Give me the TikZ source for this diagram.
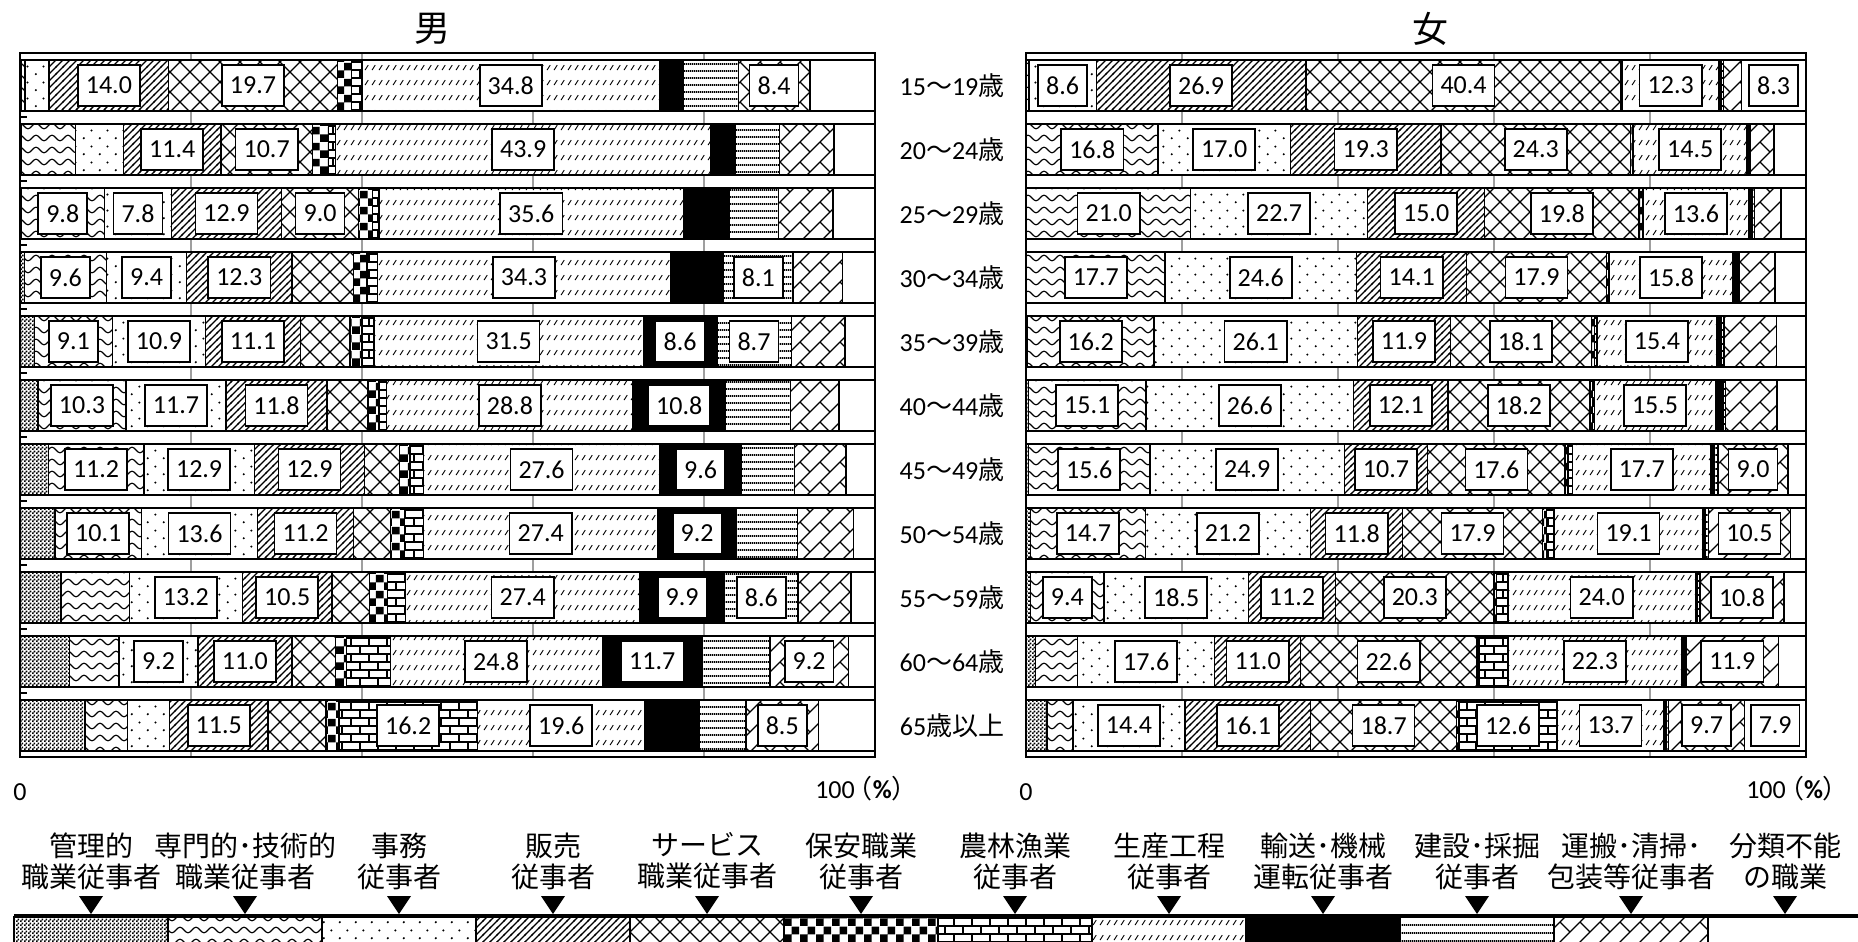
\documentclass[tikz,border=0pt]{standalone}
\usepackage{fontspec}
\setmainfont{Carlito}
\newfontfamily\jp{Noto Sans CJK JP}
\usetikzlibrary{patterns}

% fill patterns of the twelve occupations
\pgfdeclarepatternformonly{mgmtdots}{\pgfqpoint{0pt}{0pt}}{\pgfqpoint{2pt}{2pt}}{\pgfqpoint{2pt}{2pt}}{%
  \pgfpathrectangle{\pgfqpoint{0pt}{0pt}}{\pgfqpoint{1pt}{1pt}}%
  \pgfpathrectangle{\pgfqpoint{1pt}{1pt}}{\pgfqpoint{1pt}{1pt}}%
  \pgfusepath{fill}}
\pgfdeclarepatternformonly{profwave}{\pgfqpoint{-0.5pt}{-2pt}}{\pgfqpoint{8.5pt}{2pt}}{\pgfqpoint{8pt}{6pt}}{%
  \pgfsetlinewidth{0.55pt}%
  \pgfpathmoveto{\pgfqpoint{0pt}{0pt}}%
  \pgfpathsine{\pgfqpoint{2pt}{1.4pt}}%
  \pgfpathcosine{\pgfqpoint{2pt}{-1.4pt}}%
  \pgfpathsine{\pgfqpoint{2pt}{-1.4pt}}%
  \pgfpathcosine{\pgfqpoint{2pt}{1.4pt}}%
  \pgfusepath{stroke}}
\pgfdeclarepatternformonly{clerdots}{\pgfqpoint{0pt}{0pt}}{\pgfqpoint{8pt}{8pt}}{\pgfqpoint{8pt}{8pt}}{%
  \pgfpathcircle{\pgfqpoint{2pt}{2pt}}{0.6pt}%
  \pgfpathcircle{\pgfqpoint{6pt}{6pt}}{0.6pt}%
  \pgfusepath{fill}}
\pgfdeclarepatternformonly{salesdiag}{\pgfqpoint{-0.5pt}{-0.5pt}}{\pgfqpoint{4pt}{4pt}}{\pgfqpoint{3.5pt}{3.5pt}}{%
  \pgfsetlinewidth{0.6pt}%
  \pgfpathmoveto{\pgfqpoint{-0.5pt}{-0.5pt}}\pgfpathlineto{\pgfqpoint{4pt}{4pt}}%
  \pgfusepath{stroke}}
\pgfdeclarepatternformonly{servcross}{\pgfqpoint{-0.5pt}{-0.5pt}}{\pgfqpoint{10.5pt}{10.5pt}}{\pgfqpoint{10pt}{10pt}}{%
  \pgfsetlinewidth{0.6pt}%
  \pgfpathmoveto{\pgfqpoint{0pt}{0pt}}\pgfpathlineto{\pgfqpoint{10pt}{10pt}}%
  \pgfpathmoveto{\pgfqpoint{0pt}{10pt}}\pgfpathlineto{\pgfqpoint{10pt}{0pt}}%
  \pgfusepath{stroke}}
\pgfdeclarepatternformonly{secchecker}{\pgfqpoint{0pt}{0pt}}{\pgfqpoint{8pt}{8pt}}{\pgfqpoint{8pt}{8pt}}{%
  \pgfpathrectangle{\pgfqpoint{0pt}{0pt}}{\pgfqpoint{4pt}{4pt}}%
  \pgfpathrectangle{\pgfqpoint{4pt}{4pt}}{\pgfqpoint{4pt}{4pt}}%
  \pgfusepath{fill}}
\pgfdeclarepatternformonly{agribrick}{\pgfqpoint{-0.5pt}{-0.5pt}}{\pgfqpoint{9.5pt}{8.5pt}}{\pgfqpoint{9pt}{8pt}}{%
  \pgfsetlinewidth{0.8pt}%
  \pgfpathmoveto{\pgfqpoint{0pt}{0pt}}\pgfpathlineto{\pgfqpoint{9pt}{0pt}}%
  \pgfpathmoveto{\pgfqpoint{0pt}{4pt}}\pgfpathlineto{\pgfqpoint{9pt}{4pt}}%
  \pgfpathmoveto{\pgfqpoint{0pt}{0pt}}\pgfpathlineto{\pgfqpoint{0pt}{4pt}}%
  \pgfpathmoveto{\pgfqpoint{4.5pt}{4pt}}\pgfpathlineto{\pgfqpoint{4.5pt}{8pt}}%
  \pgfusepath{stroke}}
\pgfdeclarepatternformonly{proddash}{\pgfqpoint{0pt}{0pt}}{\pgfqpoint{3.5pt}{7.5pt}}{\pgfqpoint{3.5pt}{7.5pt}}{%
  \pgfsetlinewidth{0.5pt}%
  \pgfpathmoveto{\pgfqpoint{0.6pt}{1pt}}\pgfpathlineto{\pgfqpoint{2.4pt}{3.6pt}}%
  \pgfusepath{stroke}}
\pgfdeclarepatternformonly{conslines}{\pgfqpoint{0pt}{0pt}}{\pgfqpoint{1pt}{3.7pt}}{\pgfqpoint{1pt}{3.7pt}}{%
  \pgfpathrectangle{\pgfqpoint{0pt}{0pt}}{\pgfqpoint{1pt}{1pt}}%
  \pgfusepath{fill}}
\pgfdeclarepatternformonly{carrybrick}{\pgfqpoint{-0.5pt}{-0.5pt}}{\pgfqpoint{10.5pt}{10.5pt}}{\pgfqpoint{10pt}{10pt}}{%
  \pgfsetlinewidth{0.6pt}%
  \pgfpathmoveto{\pgfqpoint{0pt}{0pt}}\pgfpathlineto{\pgfqpoint{10pt}{10pt}}%
  \pgfpathmoveto{\pgfqpoint{5pt}{5pt}}\pgfpathlineto{\pgfqpoint{0pt}{10pt}}%
  \pgfusepath{stroke}}

\newcommand\agelab[2]{#1{\jp 〜}#2{\jp 歳}}

% one stacked bar: name prefix, left x, px per percent, bar top, value/label list
\newcommand\occbar[5]{%
  \xdef\occacc{0}%
  \foreach \v/\lab [count=\k] in {#5} {%
    \pgfmathsetmacro\xa{#2+\occacc*#3}%
    \pgfmathsetmacro\xb{#2+(\occacc+\v)*#3}%
    \draw[occ\k] (\xa,#4) rectangle (\xb,#4+51);
    \ifnum\lab=1
      \node[val] (#1-\k) at ({(\xa+\xb)/2},#4+25.5) {\v};
    \fi
    \pgfmathsetmacro\occnext{\occacc+\v}%
    \xdef\occacc{\occnext}%
  }%
}

\begin{document}
\begin{tikzpicture}[
    x=0.5pt, y=-0.5pt,
    seg/.style={draw=black, line width=0.7pt, preaction={fill=white}},
    occ1/.style={seg, pattern=mgmtdots},
    occ2/.style={seg, pattern=profwave},
    occ3/.style={seg, pattern=clerdots},
    occ4/.style={seg, pattern=salesdiag},
    occ5/.style={seg, pattern=servcross},
    occ6/.style={seg, pattern=secchecker},
    occ7/.style={seg, pattern=agribrick},
    occ8/.style={seg, pattern=proddash},
    occ9/.style={seg, fill=black},
    occ10/.style={seg, pattern=conslines},
    occ11/.style={seg, pattern=carrybrick},
    occ12/.style={seg, fill=white},
    val/.style={
      draw,
      fill=white,
      line width=0.8pt,
      inner xsep=4pt,
      inner ysep=0pt,
      minimum height=20.5pt,
      font=\fontsize{13}{13}\selectfont
    },
    agelabel/.style={font=\fontsize{13}{13}\selectfont},
    axislabel/.style={font=\fontsize{13}{13}\selectfont},
    ttl/.style={font=\jp\fontsize{18}{18}\selectfont},
    legtext/.style={align=center, font=\jp\fontsize{14}{15.5}\selectfont},
    gridln/.style={draw=gray!75, line width=0.6pt},
    panelframe/.style={draw=black, line width=0.9pt}
  ]
  \path[use as bounding box] (0,0) rectangle (1858,942);
  \clip (0,0) rectangle (1858,942);

  % titles
  \node[ttl] (tm) at (432,29) {男};
  \node[ttl] (tf) at (1430,29) {女};

  % grid lines every 20 percent
  \foreach \g in {1,...,4} {
    \draw[gridln] ({20+\g*171},53) -- ({20+\g*171},757);
    \draw[gridln] ({1026+\g*156},53) -- ({1026+\g*156},757);
  }

  % men
  \occbar{m1}{20}{8.55}{60}{0.1/0,0.5/0,2.8/0,14.0/1,19.7/1,1.7/0,1.2/0,34.8/1,2.8/0,6.4/0,8.4/1,7.6/0}
  \occbar{m2}{20}{8.55}{124}{0.1/0,6.4/0,5.6/0,11.4/1,10.7/1,1.9/0,0.8/0,43.9/1,2.9/0,5.1/0,6.4/0,4.8/0}
  \occbar{m3}{20}{8.55}{188}{0.1/0,9.8/1,7.8/1,12.9/1,9.0/1,1.6/0,0.8/0,35.6/1,5.3/0,5.8/0,6.4/0,4.9/0}
  \occbar{m4}{20}{8.55}{252}{0.5/0,9.6/1,9.4/1,12.3/1,7.2/0,1.6/0,1.2/0,34.3/1,6.2/0,8.1/1,5.8/0,3.8/0}
  \occbar{m5}{20}{8.55}{316}{1.7/0,9.1/1,10.9/1,11.1/1,5.8/0,1.4/0,1.4/0,31.5/1,8.6/1,8.7/1,6.3/0,3.5/0}
  \occbar{m6}{20}{8.55}{380}{2.1/0,10.3/1,11.7/1,11.8/1,4.8/0,1.3/0,0.9/0,28.8/1,10.8/1,7.6/0,5.7/0,4.2/0}
  \occbar{m7}{20}{8.55}{444}{3.3/0,11.2/1,12.9/1,12.9/1,4.1/0,1.2/0,1.6/0,27.6/1,9.6/1,6.2/0,6.0/0,3.4/0}
  \occbar{m8}{20}{8.55}{508}{4.1/0,10.1/1,13.6/1,11.2/1,4.3/0,1.7/0,2.2/0,27.4/1,9.2/1,7.1/0,6.6/0,2.5/0}
  \occbar{m9}{20}{8.55}{572}{4.8/0,8.0/0,13.2/1,10.5/1,4.4/0,2.1/0,2.1/0,27.4/1,9.9/1,8.6/1,6.2/0,2.8/0}
  \occbar{m10}{20}{8.55}{636}{5.8/0,5.8/0,9.2/1,11.0/1,5.1/0,1.3/0,5.1/0,24.8/1,11.7/1,7.9/0,9.2/1,3.1/0}
  \occbar{m11}{20}{8.55}{700}{7.6/0,5.0/0,4.9/0,11.5/1,6.8/0,1.5/0,16.2/1,19.6/1,6.4/0,5.4/0,8.5/1,6.6/0}

  % women
  \occbar{f1}{1026}{7.8}{60}{0.1/0,0.3/0,8.6/1,26.9/1,40.4/1,0.1/0,0.1/0,12.3/1,0.4/0,0.2/0,2.3/0,8.3/1}
  \occbar{f2}{1026}{7.8}{124}{0.1/0,16.8/1,17.0/1,19.3/1,24.3/1,0.3/0,0.1/0,14.5/1,0.3/0,0.2/0,3.0/0,4.1/0}
  \occbar{f3}{1026}{7.8}{188}{0.1/0,21.0/1,22.7/1,15.0/1,19.8/1,0.4/0,0.1/0,13.6/1,0.4/0,0.3/0,3.4/0,3.2/0}
  \occbar{f4}{1026}{7.8}{252}{0.1/0,17.7/1,24.6/1,14.1/1,17.9/1,0.3/0,0.1/0,15.8/1,0.6/0,0.2/0,4.6/0,4.0/0}
  \occbar{f5}{1026}{7.8}{316}{0.2/0,16.2/1,26.1/1,11.9/1,18.1/1,0.4/0,0.3/0,15.4/1,0.6/0,0.3/0,6.7/0,3.8/0}
  \occbar{f6}{1026}{7.8}{380}{0.3/0,15.1/1,26.6/1,12.1/1,18.2/1,0.3/0,0.3/0,15.5/1,1.0/0,0.3/0,6.6/0,3.7/0}
  \occbar{f7}{1026}{7.8}{444}{0.3/0,15.6/1,24.9/1,10.7/1,17.6/1,0.4/0,0.6/0,17.7/1,0.5/0,0.4/0,9.0/1,2.3/0}
  \occbar{f8}{1026}{7.8}{508}{0.6/0,14.7/1,21.2/1,11.8/1,17.9/1,0.5/0,1.0/0,19.1/1,0.3/0,0.4/0,10.5/1,2.0/0}
  \occbar{f9}{1026}{7.8}{572}{0.6/0,9.4/1,18.5/1,11.2/1,20.3/1,0.3/0,1.5/0,24.0/1,0.3/0,0.3/0,10.8/1,2.8/0}
  \occbar{f10}{1026}{7.8}{636}{1.2/0,5.4/0,17.6/1,11.0/1,22.6/1,0.3/0,3.7/0,22.3/1,0.3/0,0.2/0,11.9/1,3.5/0}
  \occbar{f11}{1026}{7.8}{700}{2.7/0,3.3/0,14.4/1,16.1/1,18.7/1,0.3/0,12.6/1,13.7/1,0.3/0,0.3/0,9.7/1,7.9/1}

  % frames and ticks
  \draw[panelframe] (20,53) rectangle (875,757);
  \draw[panelframe] (1026,53) rectangle (1806,757);
  \foreach \i in {1,...,10}
    \draw[line width=0.6pt] (20,{53+64*\i}) -- (27,{53+64*\i});

  % age groups
  \node[agelabel] (a1) at (952,85.5) {\agelab{15}{19}};
  \node[agelabel] (a2) at (952,149.5) {\agelab{20}{24}};
  \node[agelabel] (a3) at (952,213.5) {\agelab{25}{29}};
  \node[agelabel] (a4) at (952,277.5) {\agelab{30}{34}};
  \node[agelabel] (a5) at (952,341.5) {\agelab{35}{39}};
  \node[agelabel] (a6) at (952,405.5) {\agelab{40}{44}};
  \node[agelabel] (a7) at (952,469.5) {\agelab{45}{49}};
  \node[agelabel] (a8) at (952,533.5) {\agelab{50}{54}};
  \node[agelabel] (a9) at (952,597.5) {\agelab{55}{59}};
  \node[agelabel] (a10) at (952,661.5) {\agelab{60}{64}};
  \node[agelabel] (a11) at (952,725.5) {65{\jp 歳以上}};

  % axis ends
  \node[axislabel] (m0) at (20,792) {0};
  \node[axislabel, anchor=east] (m100) at (925,789) {100\kern-0.3em{\jp（}\textbf{\%}{\jp）}};
  \node[axislabel] (f0) at (1026,792) {0};
  \node[axislabel, anchor=east] (f100) at (1856,789) {100\kern-0.3em{\jp（}\textbf{\%}{\jp）}};

  % legend
  \draw[line width=1pt] (14,915) -- (1858,915);
  \foreach \i in {1,...,12} {
    \draw[occ\i] ({14+154*(\i-1)},917) rectangle ({14+154*\i},950);
    \fill ({91+154*(\i-1)-12},896) -- ({91+154*(\i-1)+12},896) -- ({91+154*(\i-1)},914) -- cycle;
  }
  \node[legtext] (l1) at (91,861) {管理的\\職業従事者};
  \node[legtext] (l2) at (245,861) {専門的･技術的\\職業従事者};
  \node[legtext] (l3) at (399,861) {事務\\従事者};
  \node[legtext] (l4) at (553,861) {販売\\従事者};
  \node[legtext] (l5) at (707,861) {サービス\\職業従事者};
  \node[legtext] (l6) at (861,861) {保安職業\\従事者};
  \node[legtext] (l7) at (1015,861) {農林漁業\\従事者};
  \node[legtext] (l8) at (1169,861) {生産工程\\従事者};
  \node[legtext] (l9) at (1323,861) {輸送･機械\\運転従事者};
  \node[legtext] (l10) at (1477,861) {建設･採掘\\従事者};
  \node[legtext] (l11) at (1631,861) {運搬･清掃･\\包装等従事者};
  \node[legtext] (l12) at (1785,861) {分類不能\\の職業};
\end{tikzpicture}
\end{document}
